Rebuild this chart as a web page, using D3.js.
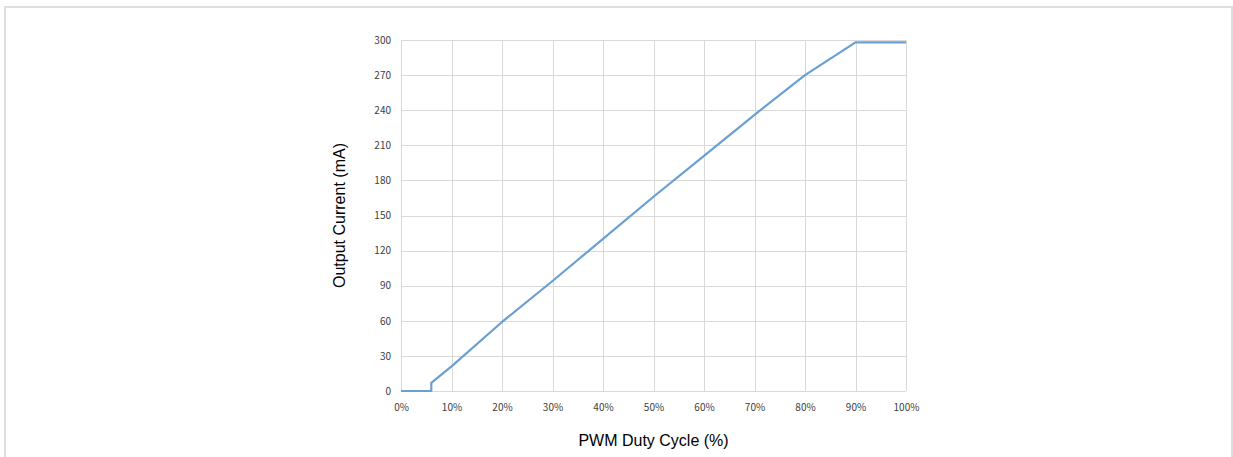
<!DOCTYPE html>
<html lang="en">
<head>
<meta charset="UTF-8">
<script src="https://d3js.org/d3.v7.min.js"></script>
<style>
  html, body { margin: 0; padding: 0; background: #fff; }
  #chart { width: 1233px; height: 457px; }
  .tick text { font-family: 'Noto Sans CJK JP', 'Liberation Sans', sans-serif; font-size: 10px; fill: #404040; }
  .axis-title { font-family: 'Liberation Sans', Arial, sans-serif; font-size: 16px; fill: #000; }
</style>
</head>
<body>
<div id="chart"></div>
<script>
// duty cycle (%) and output current (mA)
var dutyCycle = [0, 6, 6, 10, 20, 30, 40, 50, 60, 70, 80, 90, 100];
var currentMA = [0, 0, 7, 21, 59, 94, 130, 166, 201, 236, 270, 298, 298];

var xTicks = [0, 10, 20, 30, 40, 50, 60, 70, 80, 90, 100];
var yTicks = [0, 30, 60, 90, 120, 150, 180, 210, 240, 270, 300];

var width = 1233, height = 457;
var plot = { left: 401, right: 906, top: 40, bottom: 391 };

var svg = d3.select('#chart').append('svg')
  .attr('width', width)
  .attr('height', height);

// outer frame
svg.append('rect')
  .attr('x', 5).attr('y', 7)
  .attr('width', 1227).attr('height', 470)
  .attr('fill', 'none')
  .attr('stroke', '#dedede')
  .attr('stroke-width', 2);

var x = d3.scaleLinear().domain([0, 100]).range([plot.left, plot.right]);
var y = d3.scaleLinear().domain([0, 300]).range([plot.bottom, plot.top]);

// gridlines
var grid = svg.append('g').attr('stroke', '#d9d9d9').attr('stroke-width', 1);
grid.selectAll('.vg').data(xTicks).enter().append('line')
  .attr('x1', function(d) { return Math.round(x(d)) + 0.5; })
  .attr('x2', function(d) { return Math.round(x(d)) + 0.5; })
  .attr('y1', plot.top).attr('y2', plot.bottom);
grid.selectAll('.hg').data(yTicks).enter().append('line')
  .attr('y1', function(d) { return Math.round(y(d)) + 0.5; })
  .attr('y2', function(d) { return Math.round(y(d)) + 0.5; })
  .attr('x1', plot.left).attr('x2', plot.right);

// axes (labels only)
var xAxis = svg.append('g')
  .attr('transform', 'translate(0,' + plot.bottom + ')')
  .call(d3.axisBottom(x).tickValues(xTicks).tickSize(0).tickPadding(13)
    .tickFormat(function(d) { return d + '%'; }));
xAxis.select('.domain').remove();

var yAxis = svg.append('g')
  .attr('transform', 'translate(' + plot.left + ',0)')
  .call(d3.axisLeft(y).tickValues(yTicks).tickSize(0).tickPadding(10));
yAxis.select('.domain').remove();

// series
var points = dutyCycle.map(function(d, i) { return [d, currentMA[i]]; });
svg.append('path')
  .datum(points)
  .attr('fill', 'none')
  .attr('stroke', '#6a9fd4')
  .attr('stroke-width', 2.2)
  .attr('stroke-linejoin', 'round')
  .attr('d', d3.line()
    .x(function(d) { return x(d[0]); })
    .y(function(d) { return y(d[1]); }));

// titles
svg.append('text')
  .attr('class', 'axis-title')
  .attr('x', (plot.left + plot.right) / 2)
  .attr('y', 446)
  .attr('text-anchor', 'middle')
  .text('PWM Duty Cycle (%)');

svg.append('text')
  .attr('class', 'axis-title')
  .attr('transform', 'translate(345,' + ((plot.top + plot.bottom) / 2) + ') rotate(-90)')
  .attr('text-anchor', 'middle')
  .text('Output Current (mA)');
</script>
</body>
</html>
